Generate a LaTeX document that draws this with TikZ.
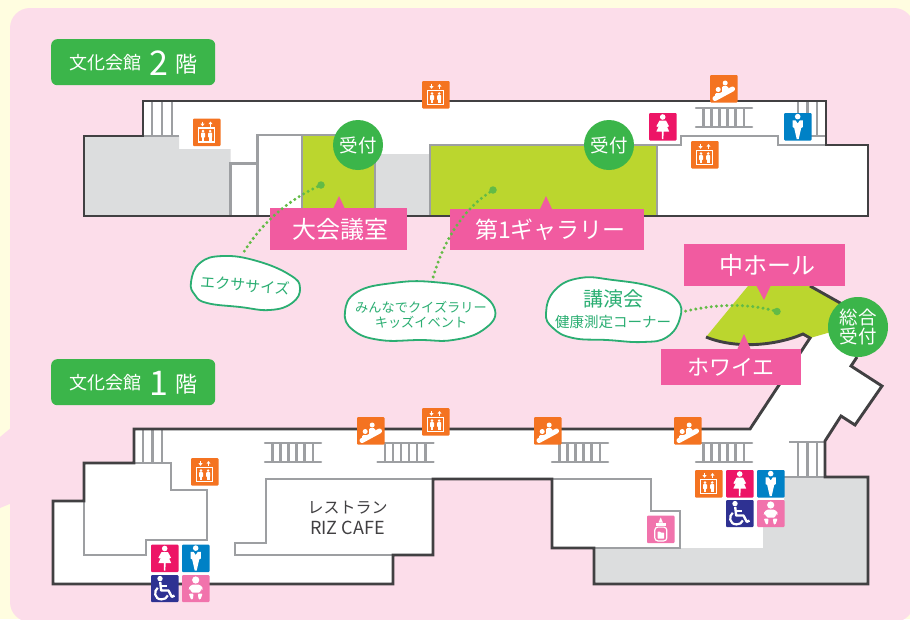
\documentclass[tikz,border=0pt]{standalone}
\usepackage{fontspec}
\setmainfont{Noto Sans CJK JP}
\definecolor{cream}{HTML}{FFFDE0}
\definecolor{bgpink}{HTML}{FCDDEA}
\definecolor{tagpink}{HTML}{F15BA0}
\definecolor{ggreen}{HTML}{3BB54A}
\definecolor{lime}{HTML}{BBD62E}
\definecolor{flgray}{HTML}{DCDDDE}
\definecolor{wdark}{HTML}{414042}
\definecolor{wgray}{HTML}{9D9FA2}
\definecolor{iorange}{HTML}{F47321}
\definecolor{ifem}{HTML}{ED1566}
\definecolor{imale}{HTML}{0081C6}
\definecolor{iwheel}{HTML}{2E3192}
\definecolor{ibaby}{HTML}{F173AC}
\definecolor{bubline}{HTML}{2BAE72}
\definecolor{dotgreen}{HTML}{62BB46}
\tikzset{
  x=1pt,y=-1pt,
  outerwall/.style={draw=wdark,line width=2.9pt,line join=miter},
  innerwall/.style={draw=wgray,line width=2.8pt,line join=miter},
  floortag/.style={fill=ggreen,rounded corners=6pt,minimum width=164pt,minimum height=46pt,inner sep=0pt},
  roomtag/.style={fill=tagpink,inner sep=0pt,text=white,font=\fontsize{23}{23}\selectfont},
  recep/.style={circle,fill=ggreen,text=white,inner sep=0pt,minimum size=50pt,font=\fontsize{18.5}{22}\selectfont,align=center},
  bubble/.style={draw=bubline,fill=white,line width=1.8pt},
  bubtext/.style={text=bubline,inner sep=0pt,align=center},
  dotline/.style={draw=dotgreen,line width=3.3pt,line cap=round,dash pattern=on 0pt off 5.2pt},
  enddot/.style={circle,fill=dotgreen,minimum size=7.5pt,inner sep=0pt},
  iconbox/.style={fill=#1,rounded corners=1pt},
  iconelev/.pic={
    \fill[iconbox=iorange] (0,0) rectangle (27.5,27.5);
    \draw[white,line width=1.1pt] (9.5,3) -- (9.5,6);
    \fill[white] (7.5,5.2) -- (11.5,5.2) -- (9.5,7.8) -- cycle;
    \draw[white,line width=1.1pt] (17.5,5) -- (17.5,8);
    \fill[white] (15.5,5.6) -- (19.5,5.6) -- (17.5,3) -- cycle;
    \draw[white,line width=1.5pt] (5.5,9.5) rectangle (21.7,23.5);
    \foreach \px in {10,17.2}{
      \fill[white] (\px,12.6) circle (1.4);
      \fill[white,rounded corners=0.6pt] (\px-2,14.2) rectangle (\px+2,19);
      \fill[white] (\px-1.3,18) rectangle (\px+1.3,22);
    }
  },
  iconesc/.pic={
    \fill[iconbox=iorange] (0,0) rectangle (27.5,27.5);
    \draw[white,line width=5pt,line cap=round] (5,23.5) -- (22.5,14);
    \fill[white] (8.2,14.5) circle (2.5);
    \fill[white] (15.2,8) circle (2.5);
    \fill[white,rounded corners=1.2pt] (5.2,23) -- (5.2,18) -- (11,18) -- (11.5,20) -- cycle;
    \fill[white,rounded corners=1.2pt] (12,19) -- (12,11.2) -- (18,11.2) -- (18.8,15.5) -- cycle;
  },
  iconf/.pic={
    \fill[iconbox=ifem] (0,0) rectangle (27.5,27.5);
    \fill[white] (13.7,4) circle (2.8);
    \fill[white] (10.5,7.6) -- (17,7.6) -- (20,13.2) -- (18.6,14) -- (17,11.5) -- (20.2,18.5) -- (14.6,18.5) -- (14.4,26) -- (13,26) -- (12.8,18.5) -- (7.4,18.5) -- (10.5,11.5) -- (8.8,14) -- (7.4,13.2) -- cycle;
  },
  iconm/.pic={
    \fill[iconbox=imale] (0,0) rectangle (27.5,27.5);
    \fill[white] (13.7,3.6) circle (2.8);
    \fill[white] (8.6,7.4) -- (11.6,7.4) -- (13.7,10.5) -- (15.8,7.4) -- (18.8,7.4) -- (18.8,14) -- (17.2,15) -- (14.7,26) -- (12.7,26) -- (10.2,15) -- (8.6,14) -- cycle;
  },
  iconwc/.pic={
    \fill[iconbox=iwheel] (0,0) rectangle (27.5,27);
    \fill[white] (9,3.6) circle (2.7);
    \draw[white,line width=2.4pt,line join=round] (9.2,7) -- (10.2,15.5) -- (17.5,15.5) -- (20.8,21.8) -- (23.5,20.6);
    \draw[white,line width=2pt] (9.5,10.5) -- (16,10.5);
    \draw[white,line width=2.2pt] (6.8,12.8) .. controls (2.6,15.5) and (3,24.4) .. (10.6,24.4) .. controls (13.6,24.4) and (15.8,23) .. (16.8,20.4);
  },
  iconbaby/.pic={
    \fill[iconbox=ibaby] (0,0) rectangle (27.5,27);
    \fill[white] (13.7,5) circle (3.6);
    \fill[white,rounded corners=1.5pt] (9.5,9.6) -- (18,9.6) -- (21.5,14) -- (19.6,15) -- (18.5,14) -- (18.5,17.5) -- (9,17.5) -- (9,14) -- (7.8,15) -- (6,14) -- cycle;
    \fill[white,rounded corners=1pt] (6.8,18.6) -- (11.6,18.6) -- (10.8,24.5) -- (9,24.5) -- cycle;
    \fill[white,rounded corners=1pt] (15.8,18.6) -- (20.6,18.6) -- (18.5,24.5) -- (16.7,24.5) -- cycle;
  },
  iconbottle/.pic={
    \fill[iconbox=ibaby] (0,0) rectangle (27.5,27.5);
    \fill[white] (11.5,7) -- (13.7,2) -- (15.9,7) -- cycle;
    \fill[white] (9,7.2) rectangle (18.5,10.6);
    \draw[white,line width=1.2pt,rounded corners=3pt] (7.8,11.6) rectangle (19.8,25.4);
    \fill[white,rounded corners=0.5pt] (10.6,16) -- (13,16) -- (13.6,17) -- (17,17) -- (17,23) -- (10.6,23) -- cycle;
  },
  iconstair/.pic={
    \draw[wgray,line width=2.5pt,line cap=round] (0,0) -- (56,0);
    \draw[wgray,line width=2.5pt,line cap=round] (0,19) -- (56,19);
    \foreach \vx in {7.5,15.5,23.5,31.5,39.5,48}{\draw[wgray,line width=2.5pt] (\vx,0) -- (\vx,19);}
  }
}
\begin{document}
\begin{tikzpicture}
\useasboundingbox (0,0) rectangle (910,619);
% ground
\fill[cream] (0,0) rectangle (910,619);
\fill[bgpink,rounded corners=20pt] (10,8) rectangle (914,622);
\fill[bgpink] (12,427) -- (0,437) -- (0,508) -- (12,503) -- cycle;

% ---------- 2nd floor
\fill[white] (143,101) -- (826,101) -- (826,145) -- (868,145) -- (868,216) -- (84,216) -- (84,136) -- (143,136) -- cycle;
\fill[flgray] (84,136) -- (179,136) -- (179,149) -- (230.5,149) -- (230.5,216) -- (84,216) -- cycle;
\fill[flgray] (375,154) rectangle (430,216);
\fill[lime] (302,135) rectangle (375,216);
\fill[lime] (430,145) rectangle (657,216);
% inner walls
\draw[innerwall] (152,101) -- (152,136);
\draw[innerwall] (162,101) -- (162,136);
\draw[innerwall] (172,101) -- (172,136);
\draw[innerwall] (143,136) -- (179,136);
\draw[innerwall] (230.5,216) -- (230.5,163.5) -- (257.5,163.5);
\draw[innerwall] (257.5,216) -- (257.5,135) -- (375,135) -- (375,216);
\draw[innerwall] (302,135) -- (302,216);
\draw[innerwall] (430,216) -- (430,145) -- (657,145) -- (657,216);
\draw[innerwall] (657,145) -- (681,145) -- (681,136) -- (778,136) -- (778,145) -- (826,145);
\draw[innerwall] (798,101) -- (798,136);
\draw[innerwall] (807.5,101) -- (807.5,136);
\draw[innerwall] (817,101) -- (817,136);
\draw[innerwall] (798,136) -- (826,136);
% outer wall
\draw[outerwall] (143,101) -- (826,101) -- (826,145) -- (868,145) -- (868,216) -- (84,216) -- (84,136) -- (143,136) -- cycle;
\path (696,108) pic {iconstair};

% ---------- 1st floor
\fill[white] (134,429) -- (750,429) -- (810,338) -- (840,325) -- (857,357) -- (851,366) -- (882,386) -- (855,425) -- (841,416) -- (825,441) -- (825,477) -- (868,477) -- (868,584) -- (594,584) -- (594,548) -- (552,548) -- (552,479) -- (433,479) -- (433,555) -- (393,555) -- (393,584) -- (53,584) -- (53,501) -- (84,501) -- (84,463) -- (134,463) -- cycle;
\fill[flgray] (784,477) -- (868,477) -- (868,584) -- (594,584) -- (594,548) -- (763,548) -- (763,527) -- (784,527) -- cycle;
% hall
\fill[lime] (706,337) -- (748,286) -- (810,286) -- (845,306) -- (845,328) -- (810,338) -- (803,334) .. controls (775,346) and (735,349) .. (706,337) -- cycle;
% inner walls
\draw[innerwall] (84,501) -- (84,555) -- (146,555) -- (146,540) -- (207,540) -- (207,490) -- (171,490) -- (171,463) -- (134,463);
\draw[innerwall] (143,429) -- (143,463);
\draw[innerwall] (152.5,429) -- (152.5,463);
\draw[innerwall] (162,429) -- (162,463);
\draw[innerwall] (433,479) -- (266,479) -- (266,543) -- (235,543) -- (235,555) -- (393,555);
\draw[innerwall] (552,479) -- (651,479) -- (651,511) -- (680,511) -- (680,548) -- (552,548);
\draw[innerwall] (789,442) -- (825,442);
\draw[innerwall] (798,442) -- (798,477);
\draw[innerwall] (807.5,442) -- (807.5,477);
\draw[innerwall] (817,442) -- (817,477);
\draw[innerwall] (784,477) -- (825,477);
% outer walls
\draw[outerwall] (857,357) -- (851,366) -- (882,386) -- (855,425) -- (841,416) -- (825,441) -- (825,477) -- (868,477) -- (868,584) -- (594,584) -- (594,548) -- (552,548) -- (552,479) -- (433,479) -- (433,555) -- (393,555) -- (393,584) -- (53,584) -- (53,501) -- (84,501) -- (84,463) -- (134,463) -- (134,429) -- (750,429) -- (810,338) -- (803,334) .. controls (775,346) and (735,349) .. (706,337);
\draw[outerwall] (810,286) -- (842,304);
% stairs
\path (265,443) pic {iconstair};
\path (377.5,443) pic {iconstair};
\path (552,443) pic {iconstair};
\path (696,443) pic {iconstair};

% ---------- icons
\path (422,81) pic {iconelev};
\path (193,118.5) pic {iconelev};
\path (691,141) pic {iconelev};
\path (710,75) pic {iconesc};
\path (649,113) pic {iconf};
\path (784,113) pic {iconm};
\path (191,458) pic {iconelev};
\path (422,408) pic {iconelev};
\path (357,417) pic {iconesc};
\path (534,417) pic {iconesc};
\path (674,417) pic {iconesc};
\path (151,544.5) pic {iconf};
\path (182,544.5) pic {iconm};
\path (151,575) pic {iconwc};
\path (182,575) pic {iconbaby};
\path (695,470) pic {iconelev};
\path (726,470) pic {iconf};
\path (757,470) pic {iconm};
\path (726,500) pic {iconwc};
\path (757,500) pic {iconbaby};
\path (647,515.5) pic {iconbottle};

% ---------- floor tags
\node[floortag,anchor=north west] (tagtwo) at (51,39) {};
\node[text=white,font=\fontsize{18}{20}\selectfont,inner sep=0pt] (tagtwoa) at (105.5,63) {文化会館};
\node[text=white,font=\fontsize{34}{34}\selectfont,inner sep=0pt] (tagtwob) at (159,63.5) {2};
\node[text=white,font=\fontsize{22}{24}\selectfont,inner sep=0pt] (tagtwoc) at (186,64) {階};
\node[floortag,anchor=north west] (tagone) at (51,359) {};
\node[text=white,font=\fontsize{18}{20}\selectfont,inner sep=0pt] (tagonea) at (105.5,383) {文化会館};
\node[text=white,font=\fontsize{34}{34}\selectfont,inner sep=0pt] (tagoneb) at (159,383.5) {1};
\node[text=white,font=\fontsize{22}{24}\selectfont,inner sep=0pt] (tagonec) at (186,384) {階};

% ---------- room tags
\fill[tagpink] (333,209) -- (339,196) -- (345,209) -- cycle;
\node[roomtag,minimum width=137pt,minimum height=42pt,font=\fontsize{24}{24}\selectfont] (rooma) at (338.5,229) {\hspace*{4pt}大会議室};
\fill[tagpink] (540,209) -- (546,196) -- (552,209) -- cycle;
\node[roomtag,minimum width=194pt,minimum height=41pt] (roomb) at (547,229.5) {\hspace*{7pt}第1ギャラリー};
\fill[tagpink] (756,285) -- (764,300) -- (771,285) -- cycle;
\node[roomtag,minimum width=161pt,minimum height=42pt,font=\fontsize{24}{24}\selectfont] (roomc) at (764.5,265) {\hspace*{5pt}中ホール};
\fill[tagpink] (737,350) -- (744,334) -- (751,350) -- cycle;
\node[roomtag,minimum width=140pt,minimum height=36pt,font=\fontsize{22}{22}\selectfont] (roomd) at (731,367) {ホワイエ};

% ---------- reception
\node[recep] (recepa) at (358,145) {受付};
\node[recep] (recepb) at (609,145) {受付};
\node[recep,minimum size=60pt] (recepc) at (858,327) {総合\\[-3pt]受付};

% ---------- restaurant
\node[text=wdark,inner sep=0pt,font=\fontsize{16}{21}\selectfont,align=center] (cafe) at (347.5,518) {レストラン\\{\fontsize{18}{21}\selectfont RIZ CAFE}};

% ---------- bubbles
\draw[bubble] plot[smooth cycle,tension=0.75] coordinates {(191,282) (200,263) (223,256) (257,261) (290,275) (300,288) (292,303) (270,310) (240,307) (207,303) (195,295)};
\draw[bubble] plot[smooth cycle,tension=0.75] coordinates {(345,312) (357,292) (393,283) (433,282) (473,290) (495,310) (483,330) (453,340) (420,340) (380,340) (353,330)};
\draw[bubble] plot[smooth cycle,tension=0.75] coordinates {(546,313) (555,290) (580,278) (613,280) (653,287) (677,300) (680,318) (667,337) (643,342) (607,340) (573,338) (553,328)};
\node[bubtext,rotate=-4,font=\fontsize{15}{15}\selectfont] (bubone) at (245,285) {エクササイズ};
\node[bubtext,font=\fontsize{13.2}{15.5}\selectfont] (bubtwo) at (421,315) {みんなでクイズラリー\\キッズイベント};
\node[bubtext,font=\fontsize{14.5}{21}\selectfont] (bubthree) at (613,309.5) {{\fontsize{20}{21}\selectfont 講演会}\\健康測定コーナー};

% ---------- connectors
\coordinate (bubonetop) at (242,255);
\coordinate (bubtwotop) at (432,281);
\coordinate (bubthreeedge) at (682,312);
\node[enddot] (dota) at (321,185) {};
\node[enddot] (dotb) at (493,190) {};
\node[enddot] (dotc) at (777,311.5) {};
\draw[dotline] (dota) .. controls (285,202) and (260,225) .. (bubonetop);
\draw[dotline] (dotb) .. controls (460,212) and (442,245) .. (bubtwotop);
\draw[dotline] (dotc) .. controls (745,303) and (715,304) .. (bubthreeedge);
\end{tikzpicture}
\end{document}
